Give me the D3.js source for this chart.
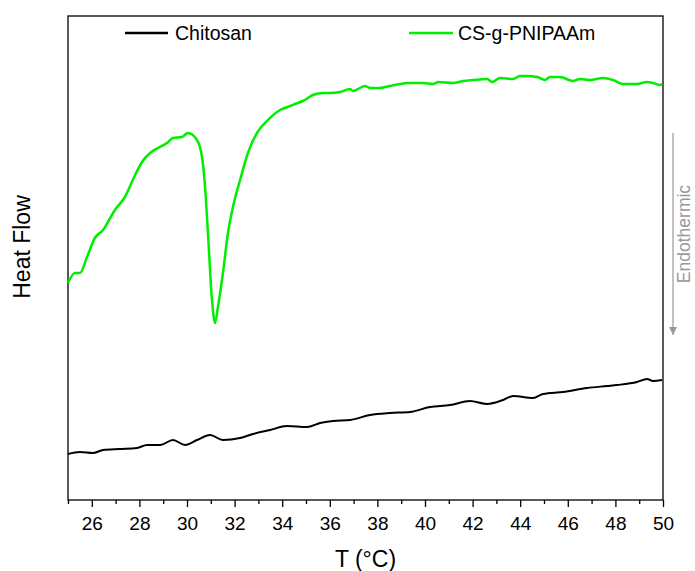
<!DOCTYPE html>
<html>
<head>
<meta charset="utf-8">
<script src="https://cdn.jsdelivr.net/npm/d3@7"></script>
<style>
  html, body { margin: 0; padding: 0; background: #fff; }
  svg { display: block; font-family: "Liberation Sans", Arial, sans-serif; }
</style>
</head>
<body>
<div id="chart"></div>
<script>
// temperatures (°C) and heat flow (arbitrary units)
const chitosanT = [25.00, 25.50, 26.05, 26.47, 27.18, 27.90, 28.32, 28.87, 29.41, 29.92, 30.42, 30.97, 31.51, 32.23, 32.77, 33.49, 34.20, 35.04, 35.59, 36.13, 36.85, 37.69, 38.53, 39.37, 40.21, 41.05, 41.89, 42.61, 43.28, 43.70, 44.54, 44.96, 45.80, 46.81, 47.65, 48.07, 48.91, 49.33, 49.58, 49.96];
const chitosanHF = [0.46, 0.48, 0.47, 0.50, 0.51, 0.52, 0.55, 0.55, 0.60, 0.55, 0.60, 0.65, 0.60, 0.62, 0.66, 0.70, 0.74, 0.73, 0.77, 0.79, 0.80, 0.85, 0.87, 0.88, 0.93, 0.95, 0.99, 0.96, 1.00, 1.04, 1.02, 1.06, 1.08, 1.12, 1.14, 1.15, 1.18, 1.21, 1.19, 1.20];

const graftT = [25.00, 25.29, 25.50, 25.80, 26.13, 26.47, 26.97, 27.39, 27.82, 28.11, 28.45, 28.78, 29.16, 29.41, 29.79, 30.04, 30.42, 30.63, 30.76, 30.88, 31.05, 31.18, 31.30, 31.51, 31.72, 31.93, 32.23, 32.56, 32.94, 33.36, 33.91, 34.33, 34.54, 34.87, 35.29, 35.71, 36.01, 36.43, 36.85, 36.97, 37.48, 37.69, 38.11, 38.53, 38.95, 39.24, 39.66, 39.92, 40.34, 40.55, 41.18, 41.60, 42.02, 42.61, 42.82, 43.15, 43.70, 43.99, 44.29, 44.71, 45.04, 45.25, 45.67, 46.22, 46.51, 46.93, 47.48, 47.90, 48.32, 48.91, 49.33, 49.58, 49.87, 49.96];
const graftHF = [2.17, 2.27, 2.27, 2.43, 2.62, 2.70, 2.90, 3.03, 3.25, 3.38, 3.47, 3.52, 3.57, 3.62, 3.63, 3.67, 3.60, 3.43, 3.13, 2.67, 2.00, 1.77, 1.93, 2.27, 2.67, 2.93, 3.20, 3.47, 3.67, 3.79, 3.90, 3.94, 3.96, 3.99, 4.05, 4.07, 4.07, 4.08, 4.11, 4.09, 4.14, 4.12, 4.12, 4.14, 4.16, 4.17, 4.17, 4.17, 4.16, 4.18, 4.17, 4.19, 4.20, 4.21, 4.18, 4.22, 4.21, 4.24, 4.24, 4.23, 4.20, 4.23, 4.23, 4.19, 4.21, 4.20, 4.22, 4.20, 4.16, 4.16, 4.18, 4.17, 4.15, 4.16];

const seriesNames = ['Chitosan', 'CS-g-PNIPAAm'];
const seriesColors = ['#000000', '#00ee00'];
const majorTicks = [26, 28, 30, 32, 34, 36, 38, 40, 42, 44, 46, 48, 50];
const minorTicks = [25, 27, 29, 31, 33, 35, 37, 39, 41, 43, 45, 47, 49];

const W = 695, H = 571;
const margin = { top: 16, right: 32, bottom: 71, left: 68 };
const width = W - margin.left - margin.right;
const height = H - margin.top - margin.bottom;

const svg = d3.select('#chart').append('svg').attr('width', W).attr('height', H);
const g = svg.append('g').attr('transform', `translate(${margin.left},${margin.top})`);

const x = d3.scaleLinear().domain([25, 50]).range([0, width]);
const y = d3.scaleLinear().domain([0, 4.84]).range([height, 0]);

// minor ticks
g.append('g')
  .attr('transform', `translate(0,${height})`)
  .call(d3.axisBottom(x).tickValues(minorTicks).tickSize(4).tickFormat(() => ''))
  .call(s => s.select('.domain').remove())
  .selectAll('line').attr('stroke', '#000').attr('stroke-width', 1.3);

// major ticks + labels
const xAxis = g.append('g')
  .attr('transform', `translate(0,${height})`)
  .call(d3.axisBottom(x).tickValues(majorTicks).tickSize(7).tickPadding(10).tickFormat(d3.format('d')));
xAxis.select('.domain').remove();
xAxis.selectAll('line').attr('stroke', '#000').attr('stroke-width', 1.3);
xAxis.selectAll('text').attr('fill', '#000').attr('font-size', '19px')
  .attr('font-family', '"Liberation Sans", Arial, sans-serif');

// frame
g.append('rect')
  .attr('x', 0).attr('y', 0).attr('width', width).attr('height', height)
  .attr('fill', 'none').attr('stroke', '#000').attr('stroke-width', 1.3);

const line = d3.line().x(d => x(d[0])).y(d => y(d[1])).curve(d3.curveMonotoneX);

const chitosan = chitosanT.map((t, i) => [t, chitosanHF[i]]);
const graft = graftT.map((t, i) => [t, graftHF[i]]);

g.append('path').datum(chitosan)
  .attr('fill', 'none').attr('stroke', seriesColors[0]).attr('stroke-width', 2)
  .attr('stroke-linejoin', 'round').attr('d', line);

g.append('path').datum(graft)
  .attr('fill', 'none').attr('stroke', seriesColors[1]).attr('stroke-width', 2.5)
  .attr('stroke-linejoin', 'round').attr('d', line);

// legend
const legendPos = [{ x1: 125, x2: 168, tx: 175 }, { x1: 409, x2: 453, tx: 458 }];
seriesNames.forEach((name, i) => {
  const p = legendPos[i];
  svg.append('line')
    .attr('x1', p.x1).attr('x2', p.x2).attr('y1', 33).attr('y2', 33)
    .attr('stroke', seriesColors[i]).attr('stroke-width', 2.5);
  svg.append('text')
    .attr('x', p.tx).attr('y', 40)
    .attr('font-size', '19.5px').attr('fill', '#000')
    .text(name);
});

// endothermic arrow
svg.append('defs').append('marker')
  .attr('id', 'arrow').attr('viewBox', '0 0 10 10')
  .attr('refX', 10).attr('refY', 5)
  .attr('markerWidth', 8).attr('markerHeight', 9)
  .attr('markerUnits', 'userSpaceOnUse')
  .attr('orient', 'auto')
  .append('path').attr('d', 'M0,0L10,5L0,10Z').attr('fill', '#999');

svg.append('line')
  .attr('x1', 673).attr('x2', 673).attr('y1', 133).attr('y2', 335)
  .attr('stroke', '#999').attr('stroke-width', 1.2)
  .attr('marker-end', 'url(#arrow)');

svg.append('text')
  .attr('transform', 'translate(690,234) rotate(-90)')
  .attr('text-anchor', 'middle')
  .attr('font-size', '17.5px').attr('fill', '#999')
  .text('Endothermic');

// axis titles
svg.append('text')
  .attr('x', margin.left + width / 2).attr('y', 567)
  .attr('text-anchor', 'middle').attr('font-size', '23px').attr('fill', '#000')
  .text('T (°C)');

svg.append('text')
  .attr('transform', 'translate(30,247) rotate(-90)')
  .attr('text-anchor', 'middle').attr('font-size', '23px').attr('fill', '#000')
  .text('Heat Flow');
</script>
</body>
</html>
